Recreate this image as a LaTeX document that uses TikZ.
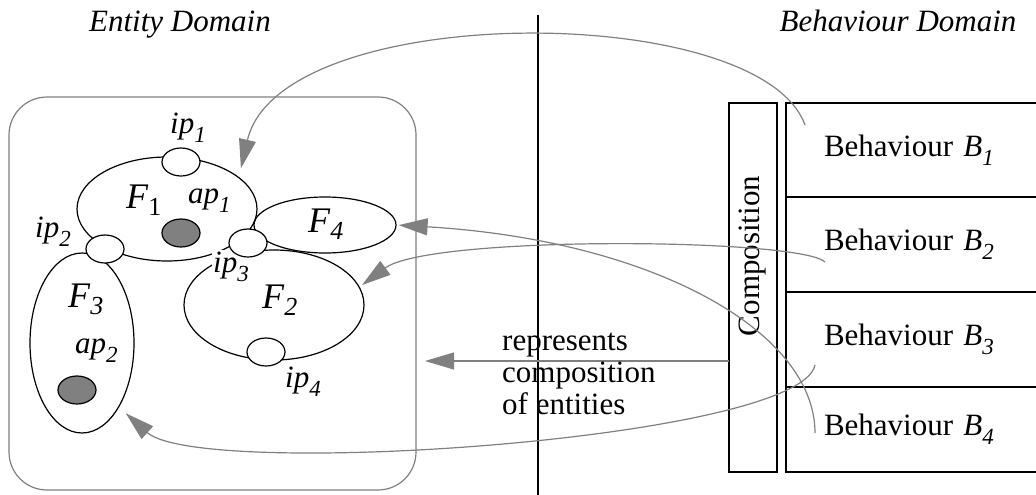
\documentclass[tikz,border=0pt]{standalone}
\usepackage{fontspec}
\setmainfont{Liberation Serif}
\usepackage{tikz}
\usetikzlibrary{%
    arrows.meta,
    positioning,
    calc,
    shapes.geometric
}
\newcommand\lsub[1]{\raisebox{-0.3em}{\fontsize{23}{23}\selectfont #1}}
\newcommand\fsub[1]{\raisebox{-0.2em}{\fontsize{26}{26}\selectfont #1}}

\begin{document}
\begin{tikzpicture}[x=1pt, y=-1pt
  , font=\fontsize{31}{32}\selectfont
  , part/.style={ellipse, draw, line width=1.2pt, inner sep=0pt}
  , port/.style={ellipse, draw, fill=white, line width=1.2pt, inner sep=0pt
                , minimum width=38pt, minimum height=28pt}
  , apoint/.style={port, fill=gray}
  , lbl/.style={anchor=base west, inner sep=0pt}
  , flbl/.style={lbl, font=\fontsize{36}{36}\selectfont}
  , cell/.style={draw, line width=1.3pt, minimum width=270pt, text width=194pt
                , inner xsep=38pt, inner ysep=0pt, outer sep=0pt, align=left}
  , link/.style={color=gray, line width=1.2pt, -{Triangle[length=29pt,width=17pt]}}
  ]
  \def\bw{48pt}
  \def\bh{369pt}

  \useasboundingbox (0,0) rectangle (1036,495);

  \node[anchor=base] (ent) at (180,32) {\textit{Entity Domain}};
  \node[anchor=base] (beh) at (898,32) {\textit{Behaviour Domain}};

  \draw[line width=1.3pt] (538,15) -- (538,495);
  \draw[gray, line width=1.2pt, rounded corners=38pt] (9,97) rectangle (416,490);

  % entities
  \node[part, minimum width=180pt, minimum height=104pt] (f1) at (167,209) {};
  \node[part, minimum width=142pt, minimum height=56pt] (f4) at (325,225) {};
  \node[part, minimum width=180pt, minimum height=110pt] (f2) at (274,305) {};
  \node[part, minimum width=104pt, minimum height=180pt] (f3) at (82,343) {};

  \node[lbl, fill=white, inner sep=1pt] (ip3l) at (212,272) {\textit{ip}\lsub{\textit{3}}};

  \node[port] (ip1) at (181,162) {};
  \node[port] (ip2) at (105,249) {};
  \node[port] (ip3) at (248,243) {};
  \node[port] (ip4) at (266,352) {};
  \node[apoint] (ap1) at (181,233) {};
  \node[apoint] (ap2) at (77,390) {};

  \node[lbl] (ip1l) at (170,133) {\textit{ip}\lsub{\textit{1}}};
  \node[lbl] (ip2l) at (35,237) {\textit{ip}\lsub{\textit{2}}};
  \node[lbl] (ip4l) at (285,387) {\textit{ip}\lsub{\textit{4}}};
  \node[lbl] (ap1l) at (188,203) {\textit{ap}\lsub{\textit{1}}};
  \node[lbl] (ap2l) at (75,353) {\textit{ap}\lsub{\textit{2}}};
  \node[flbl] (f1l) at (126,208) {\textit{F}\fsub{1}};
  \node[flbl] (f2l) at (262,308) {\textit{F}\fsub{\textit{2}}};
  \node[flbl] (f3l) at (68,307) {\textit{F}\fsub{\textit{3}}};
  \node[flbl] (f4l) at (308,232) {\textit{F}\fsub{\textit{4}}};

  % behaviours
  \node[draw, line width=1.3pt, minimum width=\bw, minimum height=\bh
       , inner sep=0pt, outer sep=0pt] (comp) at (753,287.5) {};
  \node[rotate=90] (comptxt) at (753,256) {Composition};

  \node[cell, minimum height=94pt, anchor=north west] (b1) at (786,103)
    {Behaviour \textit{B}\lsub{\textit{1}}};
  \node[cell, minimum height=95pt, below=0pt of b1] (b2)
    {Behaviour \textit{B}\lsub{\textit{2}}};
  \node[cell, minimum height=95pt, below=0pt of b2] (b3)
    {Behaviour \textit{B}\lsub{\textit{3}}};
  \node[cell, minimum height=85pt, below=0pt of b3] (b4)
    {Behaviour \textit{B}\lsub{\textit{4}}};

  \coordinate (s1) at (805,125);
  \coordinate (s2) at (825,262);
  \coordinate (s3) at (815,365);
  \coordinate (s4) at (815,433);
  \coordinate (rep) at (425,361);

  \draw[link, shorten >=9pt] (s1) .. controls (760,0) and (280,0) .. (f1.24);
  \draw[link, shorten >=3pt] (s2) .. controls (800,238) and (430,235) .. (f2.12);
  \draw[link, shorten >=9pt] (s3) .. controls (800,440) and (200,480) .. (f3.-60);
  \draw[link, shorten >=2pt] (s4) .. controls (815,330) and (650,240) .. (f4.east);
  \draw[link] (comp.west |- rep) -- (rep);

  \node[anchor=north west, align=left, inner sep=0pt] (note) at (502,333)
    {represents\\composition\\of entities};
\end{tikzpicture}
\end{document}
